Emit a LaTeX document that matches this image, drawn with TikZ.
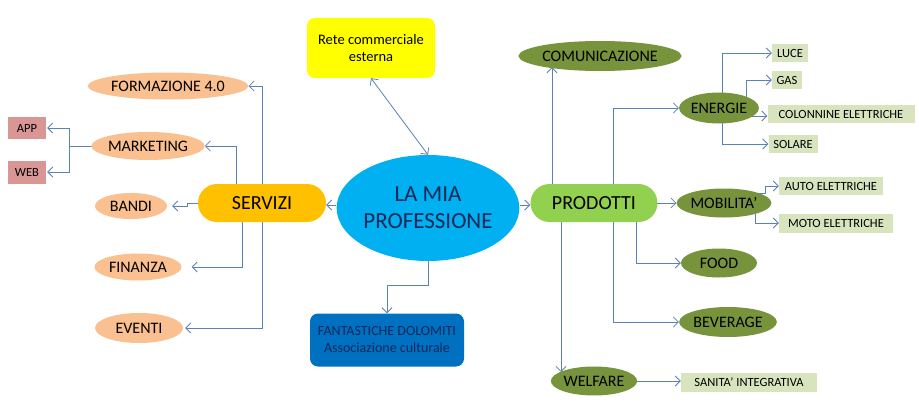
\documentclass[tikz,border=0pt]{standalone}
\usepackage{fontspec}
\setmainfont{Carlito}
\usetikzlibrary{arrows.meta,backgrounds,shapes.geometric}
\definecolor{linec}{HTML}{5B82B5}
\definecolor{yellowc}{HTML}{FFFF00}
\definecolor{cyanc}{HTML}{00B0F0}
\definecolor{orangec}{HTML}{FFC000}
\definecolor{lgreenc}{HTML}{92D050}
\definecolor{peachc}{HTML}{FAC090}
\definecolor{pinkc}{HTML}{D99694}
\definecolor{olivec}{HTML}{77933C}
\definecolor{tagc}{HTML}{D7E4BD}
\definecolor{bluec}{HTML}{0070C0}
\definecolor{navyc}{HTML}{14285A}
\newcommand\myfs[2]{\fontsize{#1}{#2}\selectfont}
\begin{document}
\begin{tikzpicture}[x=1pt,y=-1pt,
  arr/.style={draw=linec, line width=0.8pt, -{Straight Barb[length=5pt,width=10pt]}},
  arrtwo/.style={draw=linec, line width=0.8pt, {Straight Barb[length=5pt,width=10pt]}-{Straight Barb[length=5pt,width=10pt]}},
  plain/.style={draw=linec, line width=0.8pt},
  oval/.style={ellipse, inner sep=0pt, text=black},
  peach/.style={oval, fill=peachc, font=\myfs{16}{18}},
  olive/.style={oval, fill=olivec, font=\myfs{16}{18}},
  pinkbox/.style={rectangle, inner sep=0pt, fill=pinkc, font=\myfs{12.5}{14}},
  tag/.style={rectangle, inner sep=0pt, fill=tagc, font=\myfs{12.5}{14}},
  stadium/.style={rectangle, rounded corners=19pt, inner sep=0pt, minimum height=38pt, font=\myfs{20}{24}}
]
% main nodes
\node[fill=yellowc, rounded corners=8pt, minimum width=128pt, minimum height=60pt, inner sep=0pt, align=center, font=\myfs{14.5}{17}] (rete) at (371,48) {Rete commerciale\\esterna};
\node[oval, fill=cyanc, minimum width=158pt, minimum height=106pt, align=center, font=\myfs{23}{27}, text=navyc] (lamia) at (428,208) {LA MIA\\PROFESSIONE};
\node[stadium, fill=orangec, minimum width=128pt] (servizi) at (262,203) {SERVIZI};
\node[stadium, fill=lgreenc, minimum width=127pt] (prodotti) at (594,203) {PRODOTTI};
\node[fill=bluec, rounded corners=8pt, minimum width=154pt, minimum height=53pt, inner sep=0pt, align=center, text=navyc, font=\myfs{14}{17}] (fant) at (387,340) {FANTASTICHE DOLOMITI\\Associazione culturale};
% left
\node[peach, minimum width=140pt, minimum height=27pt] (formazione) at (168,86) {FORMAZIONE 4.0};
\node[peach, minimum width=112pt, minimum height=28pt] (marketing) at (148,146) {MARKETING};
\node[peach, minimum width=72pt, minimum height=26pt] (bandi) at (131,206) {BANDI};
\node[peach, minimum width=87pt, minimum height=27pt] (finanza) at (138,267) {FINANZA};
\node[peach, minimum width=88pt, minimum height=30pt] (eventi) at (139,328) {EVENTI};
\node[pinkbox, minimum width=38pt, minimum height=22pt] (app) at (27,128) {APP};
\node[pinkbox, minimum width=38pt, minimum height=23pt] (web) at (27,172) {WEB};
% right
\node[olive, minimum width=139pt, minimum height=30pt] (comunicazione) at (600,56) {COMUNICAZIONE};
\node[olive, minimum width=76pt, minimum height=31pt] (energie) at (719,108) {ENERGIE};
\node[olive, minimum width=87pt, minimum height=29pt] (mobilita) at (724,203) {MOBILITA’};
\node[olive, minimum width=76pt, minimum height=29pt] (food) at (719,263) {FOOD};
\node[olive, minimum width=94pt, minimum height=30pt] (beverage) at (728,322) {BEVERAGE};
\node[olive, minimum width=85pt, minimum height=29pt] (welfare) at (594,381) {WELFARE};
\node[tag, minimum width=36pt, minimum height=18pt] (luce) at (790,53) {LUCE};
\node[tag, minimum width=30pt, minimum height=18pt] (gas) at (787,80) {GAS};
\node[tag, minimum width=147pt, minimum height=18pt] (colonnine) at (841,114) {COLONNINE ELETTRICHE};
\node[tag, minimum width=49pt, minimum height=18pt] (solare) at (793,144) {SOLARE};
\node[tag, minimum width=104pt, minimum height=18pt] (auto) at (831,186) {AUTO ELETTRICHE};
\node[tag, minimum width=114pt, minimum height=19pt] (moto) at (836,223) {MOTO ELETTRICHE};
\node[tag, minimum width=136pt, minimum height=19pt] (sanita) at (749,382) {SANITA’ INTEGRATIVA};
\coordinate (ct) at ([yshift=4pt]comunicazione.south);
\coordinate (cw) at ([yshift=9pt]welfare.center);
\begin{pgfonlayer}{background}
\fill[white] (0,0) rectangle (919,420);
\useasboundingbox (0,0) rectangle (919,420);
% centre
\draw[arrtwo] (rete.south) -- (lamia.north);
\draw[arr] ([yshift=3pt]lamia.west) -- ([yshift=3pt]lamia.west -| servizi.east);
\draw[arr] ([yshift=3pt]lamia.east) -- ([yshift=3pt]lamia.east -| prodotti.west);
\draw[arr] (lamia.south) -- ++(0,24) -| (fant.north);
% servizi
\draw[arr] (servizi.center) |- (formazione.east);
\draw[arr] ([xshift=-26pt]servizi.center) |- (marketing.east);
\draw[arr] (servizi.center) -- ++(-75,0) |- ([xshift=5pt]bandi.east);
\draw[arr] ([xshift=-20pt]servizi.center) |- ([xshift=10pt]finanza.east);
\draw[arr] (servizi.center) |- ([xshift=2pt]eventi.east);
\draw[plain] (marketing.center) -- ++(-79,0) coordinate (mk);
\draw[arr] (mk) |- ([xshift=1pt]app.east);
\draw[arr] (mk) |- ([xshift=1pt]web.east);
% prodotti
\draw[arr] ([xshift=-42pt]prodotti.center) -- ([xshift=-42pt]prodotti.center |- ct);
\draw[arr] ([xshift=19pt]prodotti.center) |- (energie.west);
\draw[arr] (prodotti.center) -- (mobilita.west);
\draw[arr] ([xshift=42pt]prodotti.center) |- (food.west);
\draw[arr] ([xshift=19pt]prodotti.center) |- (beverage.west);
\draw[arr] ([xshift=-33pt]prodotti.center) -- ([xshift=-33pt]prodotti.center |- cw);
% energie
\draw[arr] ([xshift=3pt]energie.center) |- (luce.west);
\draw[arr] ([xshift=27pt]energie.center) |- (gas.west);
\draw[arr] ([yshift=-8pt]energie.center) -- ([yshift=-2pt]colonnine.west);
\draw[arr] ([xshift=3pt]energie.center) |- (solare.west);
% mobilita
\draw[arr] ([yshift=10pt]mobilita.center) -- ++(41,0) |- (auto.west);
\draw[arr] ([xshift=31pt]mobilita.center) |- (moto.west);
% welfare
\draw[arr] (welfare.center) -- (welfare.center -| sanita.west);
\end{pgfonlayer}
\end{tikzpicture}
\end{document}
